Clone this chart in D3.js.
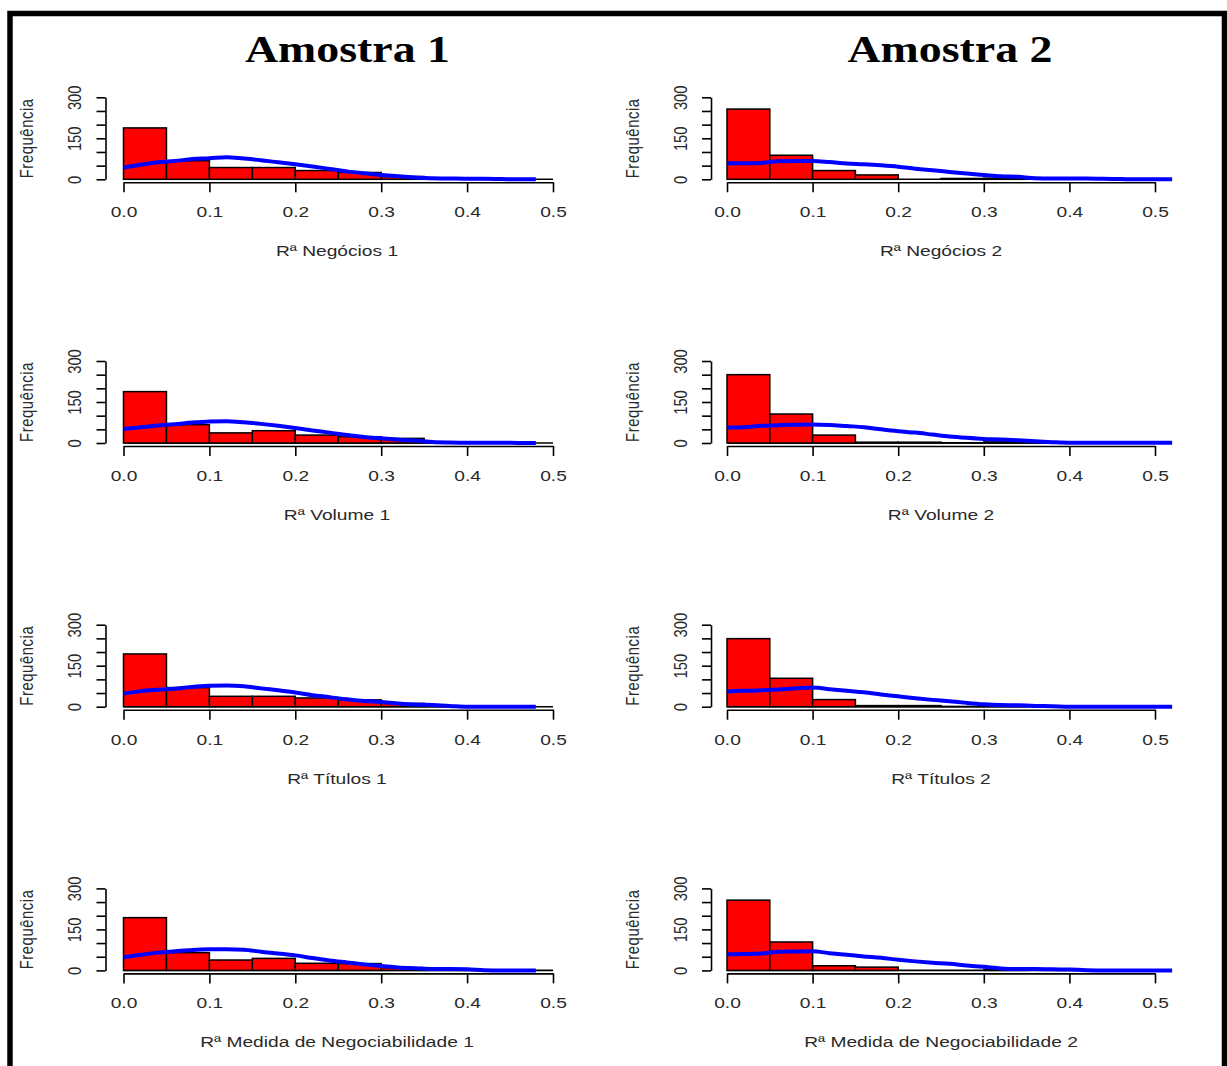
<!DOCTYPE html>
<html>
<head>
<meta charset="utf-8">
<script src="https://cdn.jsdelivr.net/npm/d3@7"></script>
<style>
    body { margin: 0; background: #fff; }
    text { font-family: "Liberation Sans", Arial, sans-serif; font-size: 12px; fill: #2a2a2a; }
</style>
</head>
<body>
<div id="wrapper"></div>
<script>
// data
const sampleTitles = ["Amostra 1", "Amostra 2"];
const xLabels = [
    "Rª Negócios 1", "Rª Negócios 2",
    "Rª Volume 1", "Rª Volume 2",
    "Rª Títulos 1", "Rª Títulos 2",
    "Rª Medida de Negociabilidade 1", "Rª Medida de Negociabilidade 2"
];
const binEdges = [0, 0.05, 0.1, 0.15, 0.2, 0.25, 0.3, 0.35, 0.4, 0.45, 0.5];
const xTicks = [0, 0.1, 0.2, 0.3, 0.4, 0.5];
const yTicks = [0, 50, 100, 150, 200, 250, 300];

const countsNeg1 = [188, 68, 43, 43, 32, 25, 10, 2, 1, 0];
const countsNeg2 = [257, 88, 32, 16, 0, 3, 4, 0, 0, 0];
const countsVol1 = [188, 67, 37, 45, 29, 23, 17, 1, 0, 0];
const countsVol2 = [250, 106, 29, 3, 3, 1, 4, 1, 0, 0];
const countsTit1 = [193, 70, 38, 38, 32, 25, 12, 2, 0, 0];
const countsTit2 = [249, 104, 26, 4, 4, 1, 1, 0, 0, 0];
const countsMed1 = [193, 65, 38, 44, 26, 25, 10, 1, 0, 0];
const countsMed2 = [257, 104, 17, 12, 0, 0, 3, 0, 0, 0];

// blue curve, sampled every 0.02 from 0
const curveX = [0, 0.02, 0.04, 0.06, 0.08, 0.1, 0.12, 0.14, 0.16, 0.18, 0.2, 0.22, 0.24, 0.26,
    0.28, 0.3, 0.32, 0.34, 0.36, 0.38, 0.4, 0.42, 0.44, 0.46, 0.48, 0.5, 0.52];
const curveNeg1 = [43, 53, 62, 67, 74, 77, 81, 76, 70, 62, 55, 47, 38, 29, 22, 16, 11, 7, 4, 3, 2, 2, 1, 0, 0];
const curveNeg2 = [59, 59, 60, 66, 67, 67, 63, 58, 55, 51, 46, 39, 33, 27, 21, 16, 11, 9, 4, 3, 3, 3, 2, 1, 0, 0, 0];
const curveVol1 = [51, 58, 64, 69, 75, 79, 80, 76, 70, 63, 55, 46, 38, 29, 22, 17, 12, 9, 4, 2, 1, 1, 1, 0, 0];
const curveVol2 = [57, 58, 63, 65, 67, 68, 66, 62, 58, 50, 43, 38, 31, 24, 19, 15, 13, 10, 6, 3, 1, 1, 1, 1, 1, 1, 1];
const curveTit1 = [48, 57, 62, 66, 72, 77, 78, 75, 67, 60, 52, 42, 35, 27, 21, 17, 12, 8, 6, 3, 0, 0, 0, 0, 0];
const curveTit2 = [56, 58, 60, 63, 67, 70, 64, 58, 53, 45, 38, 31, 25, 20, 14, 9, 6, 5, 3, 2, 0, 0, 0, 0, 0, 0, 0];
const curveMed1 = [48, 57, 65, 70, 75, 77, 77, 76, 68, 62, 55, 45, 36, 29, 22, 16, 11, 8, 5, 5, 4, 1, 0, 0, 0];
const curveMed2 = [59, 60, 62, 68, 69, 70, 63, 57, 51, 46, 39, 33, 28, 24, 18, 13, 7, 5, 5, 4, 3, 1, 0, 0, 0, 0, 0];

const allCounts = [countsNeg1, countsNeg2, countsVol1, countsVol2, countsTit1, countsTit2, countsMed1, countsMed2];
const allCurves = [curveNeg1, curveNeg2, curveVol1, curveVol2, curveTit1, curveTit2, curveMed1, curveMed2];

// layout
const cols = [
    { x0: 123.5, x5: 553, axisX: 105.5, labelX: 337, titleX: 347.5 },
    { x0: 727, x5: 1155, axisX: 711, labelX: 941, titleX: 950 }
];
const firstBase = 179.3, rowStep = 263.7, plotH = 82;
const SX = 1.6, SY = 1.23; // the picture is stretched, text too

const svg = d3.select("#wrapper")
    .append("svg")
    .attr("width", 1227)
    .attr("height", 1066);

svg.append("rect")
    .attr("x", 10)
    .attr("y", 13.5)
    .attr("width", 1214.5)
    .attr("height", 1100)
    .attr("fill", "none")
    .attr("stroke", "#000")
    .attr("stroke-width", 5.5);

sampleTitles.forEach((t, c) => {
    svg.append("text")
        .attr("x", cols[c].titleX)
        .attr("y", 62)
        .attr("text-anchor", "middle")
        .attr("textLength", 205)
        .attr("lengthAdjust", "spacingAndGlyphs")
        .style("font-family", "'Liberation Serif', 'Times New Roman', serif")
        .style("font-weight", "bold")
        .style("font-size", "37px")
        .style("fill", "#000")
        .text(t);
});

allCounts.forEach((counts, i) => {
    const r = Math.floor(i / 2), c = i % 2;
    const L = cols[c];
    const base = firstBase + r * rowStep;

    const x = d3.scaleLinear().domain([0, 0.5]).range([L.x0, L.x5]);
    const y = d3.scaleLinear().domain([0, 300]).range([base, base - plotH]);

    const g = svg.append("g");

    // zero line of the histogram
    g.append("line")
        .attr("x1", x(0)).attr("x2", x(0.5))
        .attr("y1", y(0)).attr("y2", y(0))
        .attr("stroke", "#000")
        .attr("stroke-width", 1.6);

    const bins = counts.map((v, k) => ({ a: binEdges[k], b: binEdges[k + 1], v: v }));
    g.selectAll("rect")
        .data(bins.filter(d => d.v > 0))
        .enter()
        .append("rect")
        .attr("x", d => x(d.a))
        .attr("width", d => x(d.b) - x(d.a))
        .attr("y", d => y(d.v))
        .attr("height", d => y(0) - y(d.v))
        .attr("fill", "#ff0000")
        .attr("stroke", "#000")
        .attr("stroke-width", 1.5);

    const pts = allCurves[i].map((v, k) => [curveX[k], v]);
    g.append("path")
        .datum(pts)
        .attr("fill", "none")
        .attr("stroke", "#0000ff")
        .attr("stroke-width", 4)
        .attr("d", d3.line().x(d => x(d[0])).y(d => y(d[1])).curve(d3.curveMonotoneX));

    // x axis
    const xa = g.append("g")
        .attr("transform", `translate(0,${base + 3})`)
        .call(d3.axisBottom(x).tickValues(xTicks).tickSize(10).tickSizeOuter(0).tickFormat(d3.format(".1f")));
    xa.selectAll("path, line").attr("stroke", "#000").attr("stroke-width", 1.6);
    xa.selectAll("text")
        .attr("y", null)
        .attr("dy", null)
        .attr("transform", `translate(0,34.8) scale(${SX},${SY})`);

    // y axis
    const ya = g.append("g")
        .attr("transform", `translate(${L.axisX},0)`)
        .call(d3.axisLeft(y).tickValues(yTicks).tickSize(9).tickSizeOuter(0).tickFormat(d => d % 150 === 0 ? d : ""));
    ya.selectAll("path, line").attr("stroke", "#000").attr("stroke-width", 1.6);
    ya.selectAll("text")
        .attr("x", null)
        .attr("dy", "0.35em")
        .attr("text-anchor", "middle")
        .attr("transform", `translate(-31,0) scale(${SX},${SY}) rotate(-90)`);

    g.append("text")
        .attr("transform", `translate(${L.axisX - 77},${base - 41}) scale(${SX},${SY}) rotate(-90)`)
        .attr("text-anchor", "middle")
        .attr("dy", "0.25em")
        .style("letter-spacing", "0.5px")
        .text("Frequência");

    g.append("text")
        .attr("transform", `translate(${L.labelX},${base + 77}) scale(${SX},${SY})`)
        .attr("text-anchor", "middle")
        .text(xLabels[i]);
});
</script>
</body>
</html>
